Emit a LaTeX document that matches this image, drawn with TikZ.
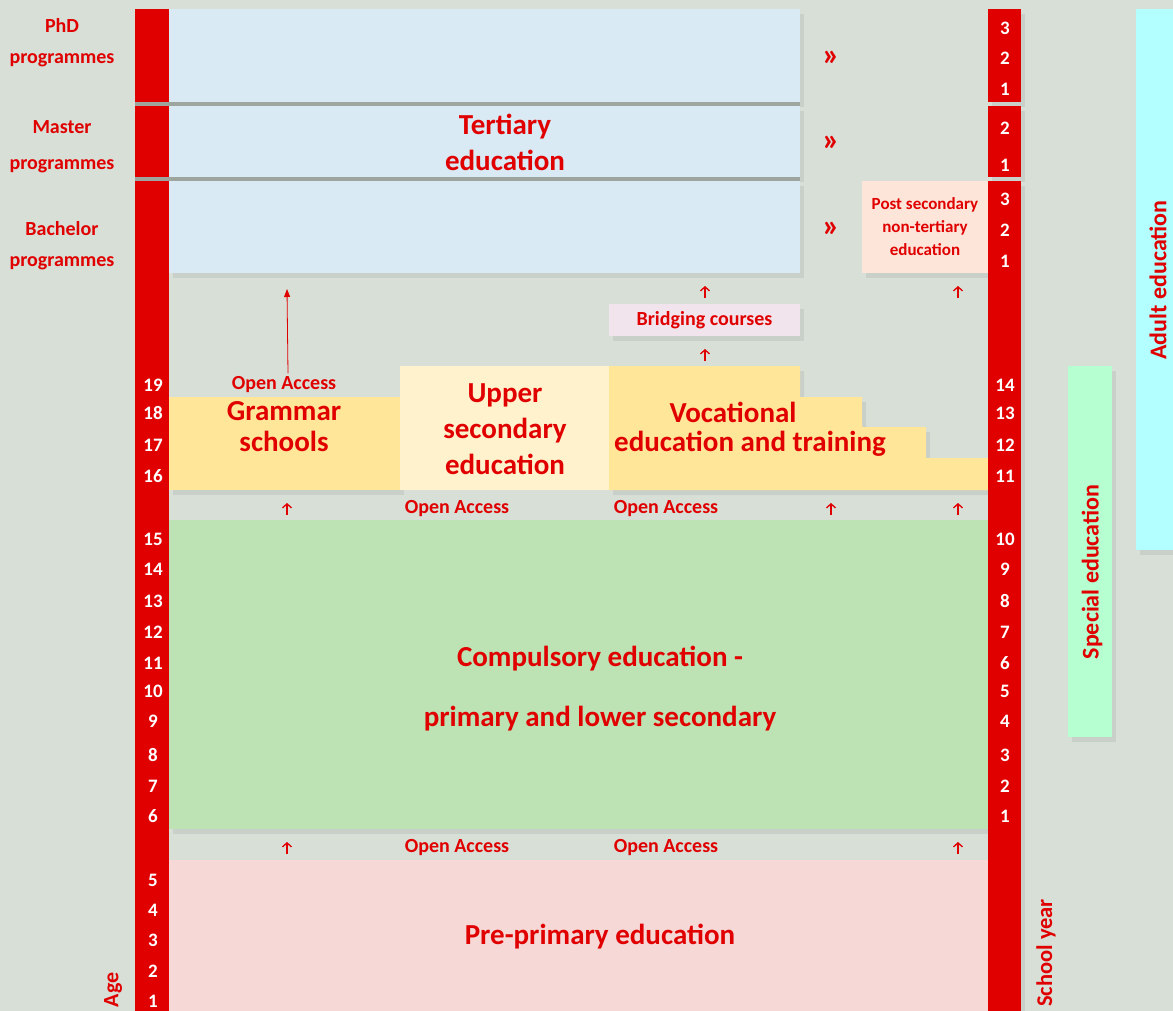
\documentclass[tikz,border=0pt]{standalone}
\usepackage{fontspec}
\setmainfont{Carlito}
\usetikzlibrary{arrows.meta, shadows}

\definecolor{bgcol}{HTML}{D8DFD7}
\definecolor{barred}{HTML}{E00000}
\definecolor{terblue}{HTML}{D9EAF4}
\definecolor{sepgray}{HTML}{9DA59E}
\definecolor{postpeach}{HTML}{FDE5D9}
\definecolor{bridgepink}{HTML}{F2E4EC}
\definecolor{gsyellow}{HTML}{FFE699}
\definecolor{uslight}{HTML}{FFF2CC}
\definecolor{compgreen}{HTML}{BDE3B4}
\definecolor{prepink}{HTML}{F6D8D6}
\definecolor{specmint}{HTML}{B5FFD0}
\definecolor{adultcyan}{HTML}{B3FFFF}

\tikzset{
    boxshadow/.style={drop shadow={opacity=0.16, shadow xshift=4pt, shadow yshift=-5pt}},
    num/.style={text=white, font=\fontsize{19}{19}\selectfont\bfseries, inner sep=0pt},
    side/.style={text=barred, font=\fontsize{20}{31}\selectfont\bfseries, align=center},
    big/.style={text=barred, font=\fontsize{29}{36}\selectfont\bfseries, align=center},
    small/.style={text=barred, font=\fontsize{20}{20}\selectfont\bfseries},
    uparrow/.style={draw=barred, line width=1.3pt, -{Straight Barb[length=4pt, width=9pt]}},
}

\begin{document}
\begin{tikzpicture}[x=1pt, y=-1pt]
        \fill[bgcol] (0,0) rectangle (1173,1011);
        \useasboundingbox (0,0) rectangle (1173,1011);

        \fill[adultcyan, boxshadow] (1136,9) rectangle (1173,550);
        \fill[specmint, boxshadow] (1068,366) rectangle (1112,737);

        \fill[terblue, boxshadow] (169,9) rectangle (800,102);
        \fill[terblue, boxshadow] (169,106) rectangle (800,177);
        \fill[terblue, boxshadow] (169,181) rectangle (800,273);

        \node[fill=postpeach, boxshadow, minimum width=126pt, minimum height=92pt,
            text=barred, font=\fontsize{17}{23}\selectfont\bfseries, align=center]
            (post) at (925,227) {Post secondary\\non-tertiary\\education};
        \node[fill=bridgepink, boxshadow, minimum width=191pt, minimum height=32pt, small]
            (bridge) at (704.5,320) {Bridging courses};

        \fill[gsyellow, boxshadow] (169,397) rectangle (400,490);
        \fill[uslight] (400,366) rectangle (609,490);
        \fill[gsyellow, boxshadow] (609,366) -- (800,366) -- (800,397) -- (862,397)
            -- (862,427) -- (926,427) -- (926,458) -- (988,458) -- (988,490)
            -- (609,490) -- cycle;

        \fill[compgreen, boxshadow] (169,520) rectangle (988,829);
        \fill[prepink] (169,860) rectangle (988,1011);

        \fill[barred] (135,9) rectangle (169,1011);
        \fill[sepgray] (135,102) rectangle (800,106);
        \fill[sepgray] (135,177) rectangle (800,181);
        \fill[barred, boxshadow] (988,9) rectangle (1021,102);
        \fill[barred, boxshadow] (988,106) rectangle (1021,177);
        \fill[barred, boxshadow] (988,181) rectangle (1021,1011);

        \node[side] (phd) at (62,43) {PhD\\programmes};
        \node[side] (master) at (62,147) {Master\\[5pt]programmes};
        \node[side] (bachelor) at (62,246) {Bachelor\\programmes};

        \node[big] (tertiary) at (505,142) {Tertiary\\education};
        \foreach \y [count=\i] in {58, 143, 229}
            \node[text=barred, font=\fontsize{32}{32}\selectfont\bfseries] (guil\i) at (831,\y) {»};

        \node[big, font=\fontsize{29}{31}\selectfont\bfseries] (grammar) at (284,427) {Grammar\\schools};
        \node[big] (uppersec) at (505,429) {Upper\\secondary\\education};
        \node[big] (voc1) at (733,412) {Vocational};
        \node[big] (voc2) at (750,444) {education and training};
        \node[big, font=\fontsize{29}{60}\selectfont\bfseries] (compulsory) at (600,689)
            {Compulsory education -\\primary and lower secondary};
        \node[big] (preprimary) at (600,937) {Pre-primary education};

        \node[small] (oa-gs) at (284,385) {Open Access};
        \node[small] (oa-a) at (457,509) {Open Access};
        \node[small] (oa-b) at (666,509) {Open Access};
        \node[small] (oa-c) at (457,848) {Open Access};
        \node[small] (oa-d) at (666,848) {Open Access};

        \coordinate (ba-tip) at (287,289);
        \draw[barred, line width=0.8pt, -{Triangle[length=8pt, width=6pt]}] (oa-gs.north) ++(4,0) -- (ba-tip);

        \foreach \name/\x/\y in {ua/287/509, ub/831/509, uc/958/509, ud/705/292,
                                 ue/705/355, uf/958/292, ug/287/848, uh/958/848} {
            \coordinate (\name-s) at (\x,\y+6);
            \coordinate (\name-e) at (\x,\y-6);
            \draw[uparrow] (\name-s) -- (\name-e);
        }

        \foreach \v/\y in {19/385, 18/413, 17/445, 16/476, 15/539, 14/569, 13/601,
                           12/632, 11/663, 10/691, 9/721, 8/755, 7/786, 6/816,
                           5/880, 4/910, 3/940, 2/971, 1/1001}
            \node[num] (age\v) at (153,\y) {\v};
        \foreach \v/\y [count=\i] in {3/28, 2/58, 1/89, 2/128, 1/165, 3/199, 2/230, 1/261,
                           14/385, 13/413, 12/445, 11/476, 10/539, 9/569, 8/601,
                           7/632, 6/663, 5/691, 4/721, 3/755, 2/786, 1/816}
            \node[num] (yr\i) at (1005,\y) {\v};

        \node[rotate=90, text=barred, font=\fontsize{22}{22}\selectfont\bfseries] (age) at (113,990) {Age};
        \node[rotate=90, text=barred, font=\fontsize{22.5}{22.5}\selectfont\bfseries] (schoolyear) at (1046,953) {School year};
        \node[rotate=90, text=barred, font=\fontsize{24}{24}\selectfont\bfseries] (special) at (1092,572) {Special education};
        \node[rotate=90, text=barred, font=\fontsize{24}{24}\selectfont\bfseries] (adult) at (1158,280) {Adult education};
\end{tikzpicture}
\end{document}
